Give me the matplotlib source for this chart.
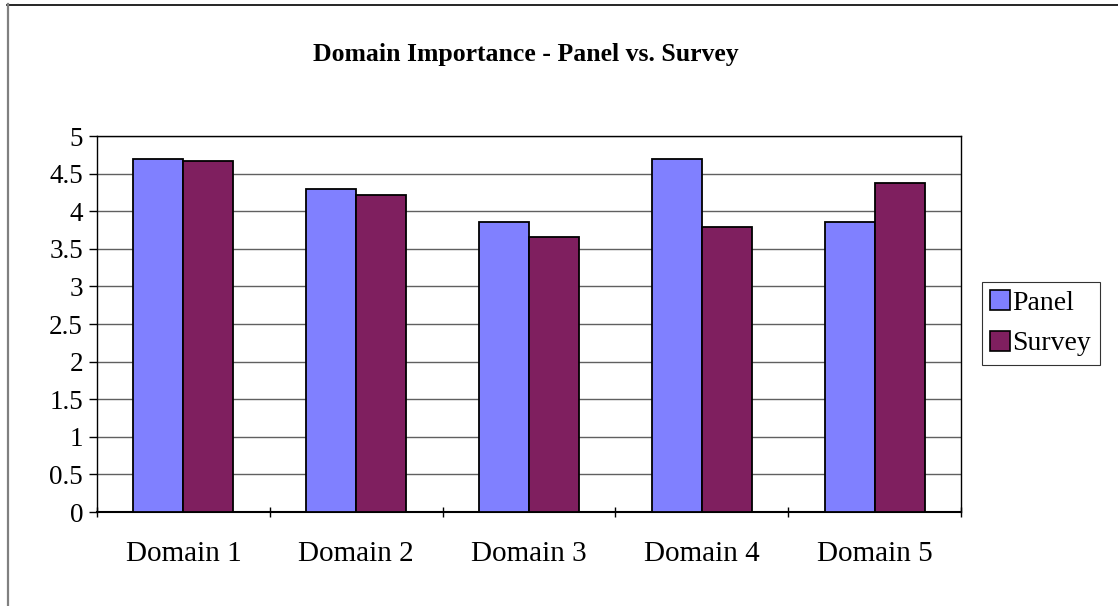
import matplotlib
matplotlib.use("Agg")
import matplotlib.pyplot as plt
import numpy as np
from matplotlib.lines import Line2D

categories = ["Domain 1", "Domain 2", "Domain 3", "Domain 4", "Domain 5"]
panel = [4.70, 4.30, 3.85, 4.70, 3.85]
survey = [4.67, 4.21, 3.66, 3.79, 4.37]
series_names = ["Panel", "Survey"]
yticks = [0, 0.5, 1, 1.5, 2, 2.5, 3, 3.5, 4, 4.5, 5]
ytick_labels = ["0", "0.5", "1", "1.5", "2", "2.5", "3", "3.5", "4", "4.5", "5"]

plt.rcParams["font.family"] = ["Liberation Serif", "DejaVu Serif"]

W, H = 1118, 606
fig = plt.figure(figsize=(W / 100, H / 100), dpi=100)
fig.patch.set_facecolor("white")

# plot area in pixel coordinates
left, right, top, bottom = 97, 961, 136, 512
ax = fig.add_axes([left / W, 1 - bottom / H, (right - left) / W, (bottom - top) / H])

x = np.arange(len(categories))
bw = 0.289
ax.bar(x - bw / 2, panel, width=bw, color="#8080FF", edgecolor="black", linewidth=1.3,
       label=series_names[0], zorder=3)
ax.bar(x + bw / 2, survey, width=bw, color="#7F1F5F", edgecolor="black", linewidth=1.3,
       label=series_names[1], zorder=3)

ax.set_xlim(-0.5, len(categories) - 0.5)
ax.set_ylim(0, 5)
ax.set_yticks(yticks)
ax.set_yticklabels(ytick_labels, fontsize=19.5)
ax.yaxis.grid(True, color="#606060", linewidth=1.0, zorder=0)
ax.set_axisbelow(True)

ax.set_xticks(x)
ax.set_xticklabels(categories, fontsize=21)
ax.tick_params(axis="x", length=0, pad=21)
ax.set_xticks(np.arange(len(categories) + 1) - 0.5, minor=True)
ax.tick_params(axis="x", which="minor", length=7, width=1, direction="inout", color="black")
ax.tick_params(axis="y", length=6, width=1, direction="out", pad=4)

for s in ["left", "top", "right"]:
    ax.spines[s].set_linewidth(1.0)
    ax.spines[s].set_color("black")
ax.spines["bottom"].set_linewidth(1.5)

fig.text((318 + 733) / 2 / W, 1 - 54 / H, "Domain Importance - Panel vs. Survey",
         ha="center", va="center", fontsize=18.5, fontweight="bold")

handles = [plt.Rectangle((0, 0), 1, 1, facecolor="#8080FF", edgecolor="black", linewidth=1.2),
           plt.Rectangle((0, 0), 1, 1, facecolor="#7F1F5F", edgecolor="black", linewidth=1.2)]
leg = fig.legend(handles, series_names, loc="upper left",
                 bbox_to_anchor=(982 / W, 1 - 282 / H), fontsize=20,
                 frameon=True, fancybox=False, edgecolor="black",
                 handlelength=0.7, handleheight=0.7, handletextpad=0.1,
                 borderpad=0.3, labelspacing=0.55, borderaxespad=0)
leg.get_frame().set_linewidth(0.8)

# outer chart frame
fig.add_artist(Line2D([7 / W, 1.0], [1 - 4.5 / H, 1 - 4.5 / H], transform=fig.transFigure,
                      color="black", linewidth=1.2))
fig.add_artist(Line2D([7.5 / W, 7.5 / W], [0, 1 - 4 / H], transform=fig.transFigure,
                      color="#808080", linewidth=1.6))

fig.savefig("out.png", dpi=100)
